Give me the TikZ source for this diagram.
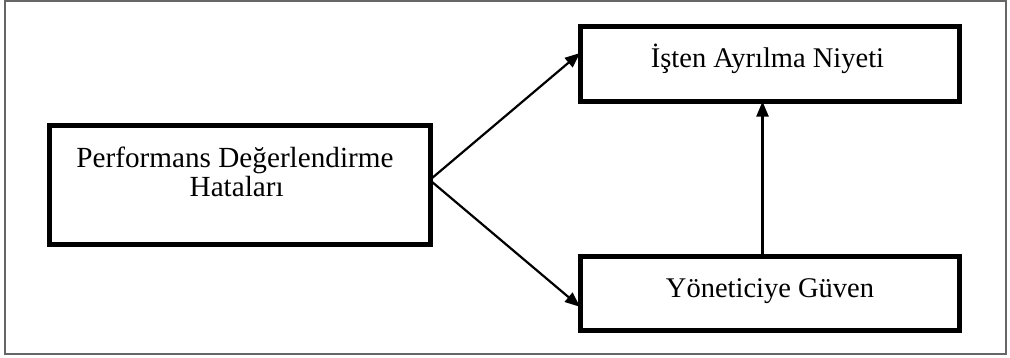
\documentclass[tikz,border=0pt]{standalone}
\usepackage{fontspec}
\setmainfont{Liberation Serif}
\usetikzlibrary{arrows.meta}
\begin{document}
\begin{tikzpicture}[x=1pt,y=-1pt,
  box/.style={draw=black,line width=5pt,inner sep=0pt,outer sep=0pt,fill=white},
  txt/.style={font=\fontsize{28.5}{27.4}\selectfont,inner sep=0pt,anchor=base,align=center},
  conn/.style={line width=2.2pt,-{Triangle[length=15pt,width=12pt]},shorten >=0pt}]
\useasboundingbox (0,0) rectangle (1010,357);
\draw[line width=2pt,draw=black!60] (4.5,1) rectangle (1006,354);
\node[box,minimum width=381.5pt,minimum height=118.5pt] (perf) at (240,185) {};
\node[box,minimum width=379pt,minimum height=75pt] (niyet) at (769.5,64) {};
\node[box,minimum width=379pt,minimum height=74pt] (guven) at (769.5,293.8) {};
\node[txt,font=\fontsize{29.2}{27.4}\selectfont] (perfT) at (235,167) {Performans Değerlendirme};
\node[txt,font=\fontsize{29.2}{27.4}\selectfont] (perfT2) at (236.7,196) {Hataları};
\node[txt] (niyetT) at (767.5,67) {İşten Ayrılma Niyeti};
\node[txt] (guvenT) at (770,297) {Yöneticiye Güven};
\coordinate (s) at ([xshift=-1pt,yshift=5pt]perf.east);
\draw[conn] (s) -- ([yshift=11pt]niyet.west);
\draw[conn] (s) -- ([yshift=-13pt]guven.west);
\draw[conn] ([xshift=-7pt]guven.north) -- ([xshift=-7pt]niyet.south);
\end{tikzpicture}
\end{document}
